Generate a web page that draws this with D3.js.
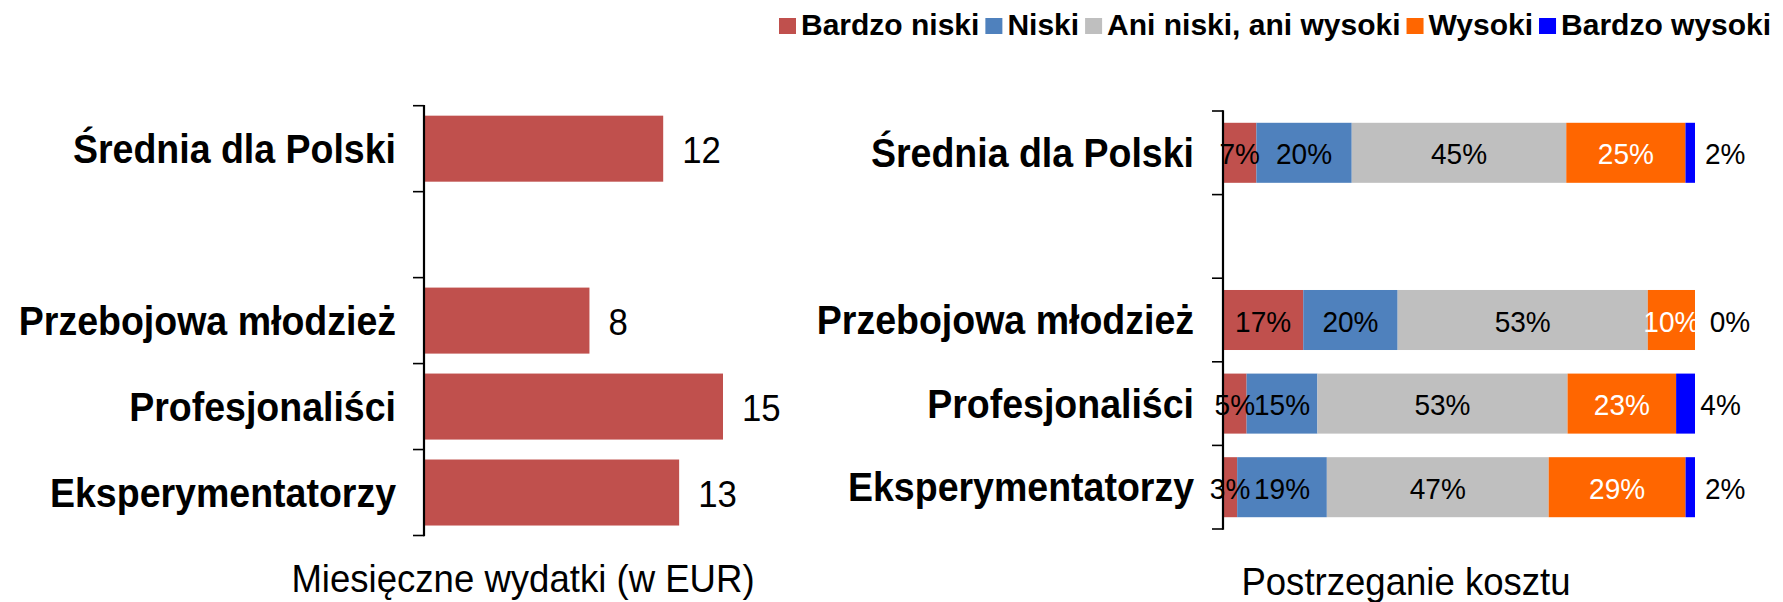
<!DOCTYPE html>
<html>
<head>
<meta charset="utf-8">
<script src="https://cdn.jsdelivr.net/npm/d3@7"></script>
<style>
  html, body { margin: 0; padding: 0; background: #fff; }
  svg { display: block; }
  text { font-family: "Liberation Sans", Arial, sans-serif; }
</style>
</head>
<body>
<svg id="chart" width="1783" height="602"></svg>
<script>
// ---------- data ----------
const categories = ["Średnia dla Polski", "", "Przebojowa młodzież", "Profesjonaliści", "Eksperymentatorzy"];
const spending = [12, null, 8.3, 15, 12.8];

const seriesNames = ["Bardzo niski", "Niski", "Ani niski, ani wysoki", "Wysoki", "Bardzo wysoki"];
const bardzoNiski  = [7,  null, 17, 5,  3];
const niski        = [20, null, 20, 15, 19];
const aniNiskiAni  = [45, null, 53, 53, 47];
const wysoki       = [25, null, 10, 23, 29];
const bardzoWysoki = [2,  null, 0,  4,  2];

const leftTitle = "Miesięczne wydatki (w EUR)";
const rightTitle = "Postrzeganie kosztu";

// ---------- styles ----------
const seriesColors = ["#C0504D", "#4F81BD", "#BFBFBF", "#FF6600", "#0000FF"];
const labelColors  = ["#000", "#000", "#000", "#fff", "#000"];
const barColor = "#C0504D";

const svg = d3.select("#chart");

// helper: condensed text via horizontal scaling
function ctext(g, x, y, sx) {
  return g.append("text").attr("transform", `translate(${x},${y}) scale(${sx},1)`);
}

// ================= LEFT PANEL =================
const L = { x0: 424, top: 105.7, bottom: 535.5 };
const yL = d3.scaleBand().domain(categories).range([L.top, L.bottom])
  .paddingInner(0.232).paddingOuter(0.116);
const xL = d3.scaleLinear().domain([0, 15]).range([L.x0, L.x0 + 299]);

const leftRows = categories.map((c, i) => ({ cat: c, v: spending[i] })).filter(d => d.v != null);

svg.append("g").selectAll("rect").data(leftRows).join("rect")
  .attr("x", xL(0))
  .attr("y", d => yL(d.cat))
  .attr("width", d => xL(d.v) - xL(0))
  .attr("height", yL.bandwidth())
  .attr("fill", barColor);

const fmt0 = d3.format(".0f");
svg.append("g").selectAll("text").data(leftRows).join("text")
  .attr("transform", d => `translate(${xL(d.v) + 19},${yL(d.cat) + yL.bandwidth() / 2 + 14}) scale(0.94,1)`)
  .attr("font-size", 37)
  .attr("fill", "#000")
  .text(d => fmt0(d.v));

// category labels
svg.append("g").selectAll("text").data(categories.filter(c => c !== "")).join("text")
  .attr("transform", d => `translate(${L.x0 - 28},${yL(d) + yL.bandwidth() / 2 + 14}) scale(0.915,1)`)
  .attr("text-anchor", "end")
  .attr("font-size", 41)
  .attr("font-weight", "bold")
  .text(d => d);

function drawBandAxis(scale, x0) {
  const step = scale.step();
  const off = step * scale.paddingOuter();
  const bounds = categories.map(c => scale(c) - off);
  bounds.push(scale(categories[categories.length - 1]) - off + step);
  const g = svg.append("g");
  g.selectAll("line.tick").data(bounds).join("line")
    .attr("class", "tick")
    .attr("x1", x0 - 11).attr("x2", x0)
    .attr("y1", d => d).attr("y2", d => d)
    .attr("stroke", "#000").attr("stroke-width", 1.6);
  g.append("line")
    .attr("x1", x0).attr("x2", x0)
    .attr("y1", bounds[0] - 0.8).attr("y2", bounds[bounds.length - 1] + 0.8)
    .attr("stroke", "#000").attr("stroke-width", 2.2);
}
drawBandAxis(yL, L.x0);

ctext(svg, 523, 592, 0.95)
  .attr("text-anchor", "middle")
  .attr("font-size", 38.5)
  .text(leftTitle);

// ================= RIGHT PANEL =================
const R = { x0: 1223, x1: 1695, top: 111, bottom: 529 };
const yR = d3.scaleBand().domain(categories).range([R.top, R.bottom])
  .paddingInner(0.282).paddingOuter(0.141);
const xR = d3.scaleLinear().domain([0, 1]).range([R.x0, R.x1]);

const seriesArrays = [bardzoNiski, niski, aniNiskiAni, wysoki, bardzoWysoki];
const rightRows = categories.map((c, i) => {
  const row = { cat: c };
  seriesNames.forEach((s, k) => row[s] = seriesArrays[k][i]);
  return row;
}).filter(d => d[seriesNames[0]] != null);

const stacked = d3.stack().keys(seriesNames).offset(d3.stackOffsetExpand)(rightRows);

const segG = svg.append("g");
stacked.forEach((layer, k) => {
  segG.append("g").selectAll("rect").data(layer).join("rect")
    .attr("x", d => xR(d[0]))
    .attr("y", d => yR(d.data.cat))
    .attr("width", d => Math.max(0, xR(d[1]) - xR(d[0])))
    .attr("height", yR.bandwidth())
    .attr("fill", seriesColors[k]);
});

const lblG = svg.append("g");
stacked.forEach((layer, k) => {
  const last = k === seriesNames.length - 1;
  lblG.append("g").selectAll("text").data(layer).join("text")
    .attr("transform", d => `translate(${(xR(d[0]) + xR(d[1])) / 2 + (last ? 35 : 0)},${yR(d.data.cat) + yR.bandwidth() / 2 + 11.5}) scale(0.95,1)`)
    .attr("text-anchor", "middle")
    .attr("font-size", 29.5)
    .attr("fill", labelColors[k])
    .text(d => d.data[layer.key] + "%");
});

svg.append("g").selectAll("text").data(categories.filter(c => c !== "")).join("text")
  .attr("transform", d => `translate(${R.x0 - 29},${yR(d) + yR.bandwidth() / 2 + 14}) scale(0.915,1)`)
  .attr("text-anchor", "end")
  .attr("font-size", 41)
  .attr("font-weight", "bold")
  .text(d => d);

drawBandAxis(yR, R.x0);

ctext(svg, 1406, 595, 0.95)
  .attr("text-anchor", "middle")
  .attr("font-size", 38.5)
  .text(rightTitle);

// ================= LEGEND =================
const leg = svg.append("g");
let lx = 779;
seriesNames.forEach((name, k) => {
  leg.append("rect").attr("x", lx).attr("y", 18).attr("width", 17).attr("height", 16)
    .attr("fill", seriesColors[k]);
  lx += 22;
  const t = leg.append("text").attr("x", lx).attr("y", 35)
    .attr("font-size", 30).attr("font-weight", "bold").text(name);
  lx += t.node().getComputedTextLength() + 6;
});
</script>
</body>
</html>
